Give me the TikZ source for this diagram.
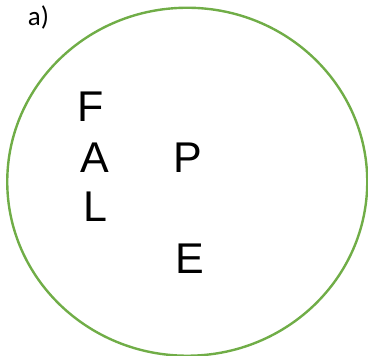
\documentclass[tikz,border=0pt]{standalone}
\usepackage{fontspec}
\setmainfont{Liberation Sans}
\newfontfamily\labelfont{Carlito}
\definecolor{setgreen}{RGB}{112,173,71}
\tikzset{
  elem/.style={inner sep=0pt, font=\fontsize{43}{43}\selectfont},
}
\begin{document}
\begin{tikzpicture}[x=1pt,y=1pt]
	\useasboundingbox (0,0) rectangle (368,356);
	% set
	\draw[setgreen, line width=2.4pt] (187.25,174.25) ellipse (180 and 174);
	\node[inner sep=0pt, font=\labelfont\fontsize{27}{27}\selectfont] (lab) at (38.5,338) {a)};
	% elements
	\node[elem] (f) at (91,249) {F};
	\node[elem] (a) at (95,198) {A};
	\node[elem] (l) at (95,149) {L};
	\node[elem] (p) at (188,198) {P};
	\node[elem] (e) at (190,97) {E};
\end{tikzpicture}
\end{document}
